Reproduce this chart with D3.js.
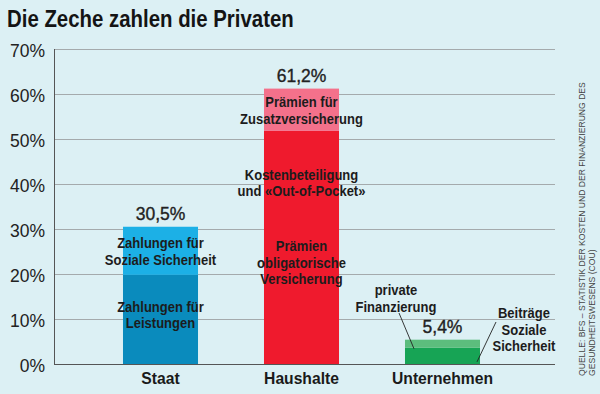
<!DOCTYPE html>
<html>
<head>
<meta charset="utf-8">
<script src="https://cdn.jsdelivr.net/npm/d3@7"></script>
<style>
  html, body { margin: 0; padding: 0; background: #dcf0f4; }
  svg { display: block; }
  .cond { font-family: "Liberation Sans", Arial, Helvetica, sans-serif; }
  .reg { font-family: "Liberation Sans", Arial, Helvetica, sans-serif; }
</style>
</head>
<body>
<svg id="chart" width="600" height="394"></svg>
<script>
// ---- data ----
const title = "Die Zeche zahlen die Privaten";
const categories = ["Staat", "Haushalte", "Unternehmen"];
const baseValues = [19.8, 51.8, 3.6];   // lower segment
const topValues  = [10.7, 9.4, 1.8];    // upper segment
const totalLabels = ["30,5%", "61,2%", "5,4%"];
const yTicks = [0, 10, 20, 30, 40, 50, 60, 70];
const yTickLabels = ["0%", "10%", "20%", "30%", "40%", "50%", "60%", "70%"];
const baseColors = ["#0a8bbd", "#ef1a2d", "#17a455"];
const topColors  = ["#1cb0e6", "#f4718b", "#5cbd7d"];
// labels inside bars: [category, segment, lines]
const segmentLabels = [
  ["Staat", "top", ["Zahlungen für", "Soziale Sicherheit"]],
  ["Staat", "base", ["Zahlungen für", "Leistungen"]],
  ["Haushalte", "top", ["Prämien für", "Zusatzversicherung"]]
];
// labels in the red segment anchored at a value (percent)
const redLabelTexts = [["Kostenbeteiligung", "und «Out-of-Pocket»"], ["Prämien", "obligatorische", "Versicherung"]];
const redLabelAnchors = [40.3, 22.6];
const sideLabelTexts = [["private", "Finanzierung"], ["Beiträge", "Soziale", "Sicherheit"]];
const sourceLines = ["QUELLE: BFS – STATISTIK DER KOSTEN UND DER FINANZIERUNG DES", "GESUNDHEITSWESENS (COU)"];

// ---- layout ----
const svg = d3.select("#chart");
const W = 600, H = 394;
svg.append("rect").attr("width", W).attr("height", H).attr("fill", "#dcf0f4");

const plotLeft = 54, plotRight = 555;
const y = d3.scaleLinear().domain([0, 70]).range([364, 49]);
const x = d3.scaleBand().domain(categories).range([90, 513]).paddingInner(0.468).paddingOuter(0.234);
const cx = c => x(c) + x.bandwidth() / 2;

// condensed text helper (horizontal compression of a sans font)
function condText(px, py, lines, size, lh, k, anchor, weight) {
  const g = svg.append("g").attr("transform", `translate(${px},${py}) scale(${k},1)`);
  const t = g.append("text").attr("class", "cond")
    .attr("text-anchor", anchor).attr("font-size", size).attr("font-weight", weight || "bold").attr("fill", "#1c1c1c");
  const n = lines.length;
  lines.forEach((ln, j) => {
    t.append("tspan").attr("x", 0).attr("y", (j - (n - 1) / 2) * lh + size * 0.36).text(ln);
  });
  return t;
}

// title
condText(7, 27 - 24 * 0.36, [title], 24, 0, 0.85, "start").attr("fill", "#141414");

// gridlines
svg.append("g").selectAll("line").data(yTicks.filter(d => d > 0)).join("line")
  .attr("x1", plotLeft).attr("x2", plotRight)
  .attr("y1", d => Math.round(y(d)) + 0.5).attr("y2", d => Math.round(y(d)) + 0.5)
  .attr("stroke", "#a4aaac").attr("stroke-width", 1);

// y tick labels
svg.append("g").selectAll("text").data(yTicks).join("text")
  .attr("class", "reg")
  .attr("x", 45).attr("y", d => y(d) + 8)
  .attr("text-anchor", "end").attr("font-size", 17.5).attr("fill", "#222")
  .text((d, i) => yTickLabels[i]);

// bars
const stackData = categories.map((c, i) => ({cat: c, base: baseValues[i], top: topValues[i], i}));
const gBars = svg.append("g");
gBars.selectAll("rect.base").data(stackData).join("rect")
  .attr("class", "base")
  .attr("x", d => x(d.cat)).attr("width", x.bandwidth())
  .attr("y", d => y(d.base)).attr("height", d => y(0) - y(d.base))
  .attr("fill", d => baseColors[d.i]);
gBars.selectAll("rect.top").data(stackData).join("rect")
  .attr("class", "top")
  .attr("x", d => x(d.cat)).attr("width", x.bandwidth())
  .attr("y", d => y(d.base + d.top)).attr("height", d => y(d.base) - y(d.base + d.top))
  .attr("fill", d => topColors[d.i]);

// axes lines
svg.append("line").attr("x1", plotLeft + 0.5).attr("x2", plotLeft + 0.5).attr("y1", y(70)).attr("y2", y(0) + 0.5)
  .attr("stroke", "#555").attr("stroke-width", 1);
svg.append("line").attr("x1", plotLeft).attr("x2", plotRight).attr("y1", y(0) + 0.5).attr("y2", y(0) + 0.5)
  .attr("stroke", "#555").attr("stroke-width", 1.2);

// x labels
categories.forEach(c => {
  condText(cx(c), 384 - 16.5 * 0.36, [c], 16.5, 0, 0.95, "middle").attr("fill", "#1a1a1a");
});

// total labels
svg.append("g").selectAll("text").data(stackData).join("text")
  .attr("class", "reg")
  .attr("x", d => cx(d.cat)).attr("y", d => y(d.base + d.top) - 7)
  .attr("text-anchor", "middle").attr("font-size", 17.5).attr("fill", "#222")
  .attr("stroke", "#222").attr("stroke-width", 0.35)
  .text(d => totalLabels[d.i]);

const labelSize = 15.5, lineH = 16.5, kx = 0.84;
segmentLabels.forEach(([cat, seg, lines]) => {
  const i = categories.indexOf(cat);
  const lo = seg === "base" ? 0 : baseValues[i];
  const hi = seg === "base" ? baseValues[i] : baseValues[i] + topValues[i];
  let cy = y((lo + hi) / 2);
  if (cat === "Staat" && seg === "base") cy -= 5;
  condText(cx(cat), cy, lines, labelSize, lineH, kx, "middle");
});
redLabelTexts.forEach((lines, j) => {
  condText(cx("Haushalte"), y(redLabelAnchors[j]), lines, labelSize, lineH, kx, "middle");
});

// Unternehmen annotations
const uX = x("Unternehmen");
const uW = x.bandwidth();
condText(396, 298, sideLabelTexts[0], labelSize, lineH, kx, "middle");
condText(524, 329, sideLabelTexts[1], labelSize, lineH, kx, "middle");
svg.append("line")
  .attr("x1", 399).attr("y1", 313)
  .attr("x2", uX + 9).attr("y2", y(baseValues[2] + topValues[2] / 2) + 5)
  .attr("stroke", "#222").attr("stroke-width", 0.9);
svg.append("line")
  .attr("x1", 496).attr("y1", 322)
  .attr("x2", uX + uW - 3).attr("y2", y(baseValues[2] / 2) + 6)
  .attr("stroke", "#222").attr("stroke-width", 0.9);

// source (rotated)
const src = svg.append("text").attr("class", "reg")
  .attr("transform", "translate(585,376) rotate(-90)")
  .attr("font-size", 8.6).attr("fill", "#444");
sourceLines.forEach((ln, j) => {
  src.append("tspan").attr("x", 0).attr("y", j * 9.5).text(ln);
});
</script>
</body>
</html>
